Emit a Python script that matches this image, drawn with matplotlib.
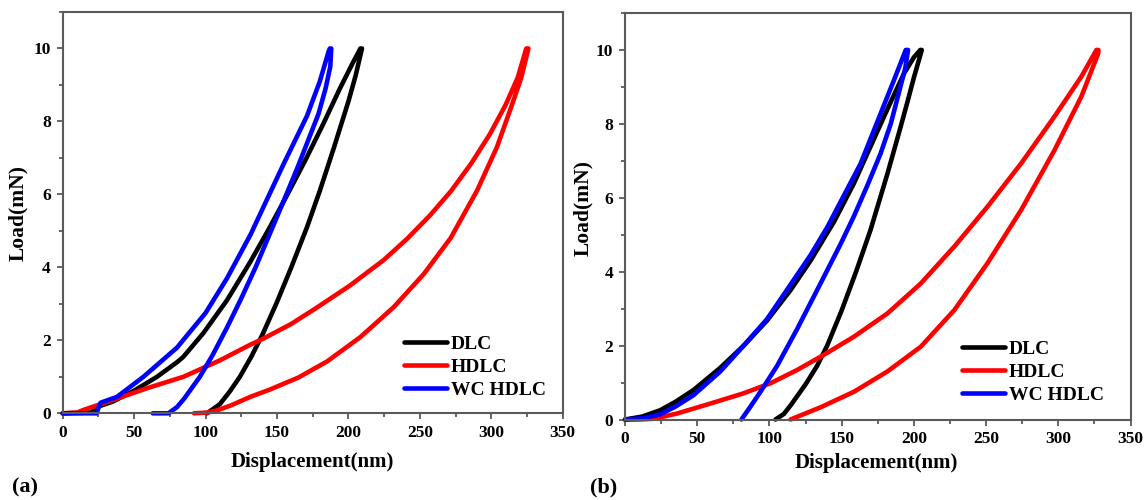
import matplotlib
matplotlib.use("Agg")
import matplotlib.pyplot as plt
from matplotlib.ticker import MultipleLocator

# ---------------- data ----------------
labels = ["DLC", "HDLC", "WC HDLC"]
colors = ["#000000", "#ff0000", "#0000ff"]

# Panel (a): loading branch then unloading branch (displacement nm, load mN)
a_dlc_load_x = [0, 20, 26, 35, 50, 66, 80, 84.5, 98.5, 115, 131.3, 145, 158, 170, 182, 194, 203, 208.4]
a_dlc_load_y = [0, 0.02, 0.2, 0.32, 0.62, 1.0, 1.4, 1.55, 2.2, 3.1, 4.15, 5.1, 6.05, 6.95, 7.9, 8.9, 9.6, 10]
a_dlc_unl_x = [209.5, 205, 200, 190, 180, 171, 160, 150, 140, 132, 124, 117, 110, 101]
a_dlc_unl_y = [10, 9.25, 8.55, 7.3, 6.1, 5.1, 4.0, 3.05, 2.17, 1.55, 1.0, 0.6, 0.25, 0]

a_hdlc_load_x = [0, 10, 14.4, 37.8, 60, 84.5, 110, 131.3, 140.6, 160, 178, 201, 224.7, 241, 257, 272, 286, 299, 310, 318.5, 324.5]
a_hdlc_load_y = [0, 0.02, 0.09, 0.4, 0.7, 1.0, 1.45, 1.88, 2.05, 2.45, 2.9, 3.5, 4.2, 4.78, 5.42, 6.1, 6.85, 7.65, 8.45, 9.2, 10]
a_hdlc_unl_x = [326, 321, 314, 304, 290, 271.5, 252.8, 231.7, 208.4, 185, 165, 145, 131.3, 118, 108, 101, 92]
a_hdlc_unl_y = [10, 9.2, 8.4, 7.3, 6.1, 4.8, 3.82, 2.91, 2.09, 1.42, 0.98, 0.65, 0.45, 0.22, 0.08, 0.02, 0]

a_wc_load_x = [0, 23.8, 25, 26.5, 38, 56.5, 80, 100, 115, 131.5, 154.6, 171, 180, 186, 187]
a_wc_load_y = [0, 0, 0.15, 0.29, 0.45, 1.0, 1.8, 2.75, 3.7, 4.9, 6.83, 8.15, 9.1, 9.9, 10]
a_wc_unl_x = [188, 187.3, 184, 179, 172, 164, 155, 145.3, 135, 125, 115, 105, 96, 85, 80, 74, 63]
a_wc_unl_y = [10, 9.5, 8.9, 8.2, 7.5, 6.7, 5.85, 4.95, 4.0, 3.15, 2.35, 1.6, 1.0, 0.4, 0.17, 0, 0]

# Panel (b)
b_dlc_load_x = [0, 12, 24.3, 35, 47.5, 66, 82.2, 98.4, 114.6, 128.5, 144.7, 158.5, 181.7, 193, 200, 204.5]
b_dlc_load_y = [0, 0.08, 0.25, 0.48, 0.8, 1.4, 2.0, 2.68, 3.5, 4.3, 5.35, 6.39, 8.4, 9.35, 9.8, 10]
b_dlc_unl_x = [205.5, 200, 195.6, 190, 181.7, 170, 160, 150, 140, 133, 125, 115, 110, 104.2]
b_dlc_unl_y = [10, 9.25, 8.6, 7.8, 6.65, 5.13, 4.0, 2.95, 2.0, 1.45, 0.95, 0.4, 0.15, 0]

b_hdlc_load_x = [0, 10, 19.7, 35.9, 59, 82.2, 100.7, 119.2, 137.7, 158.5, 181.7, 204.8, 228, 251, 274.3, 297.4, 316, 326.4]
b_hdlc_load_y = [0, 0, 0.02, 0.16, 0.43, 0.71, 0.98, 1.34, 1.75, 2.24, 2.87, 3.68, 4.68, 5.76, 6.93, 8.2, 9.28, 10]
b_hdlc_unl_x = [327.8, 327.6, 316, 297.4, 274.3, 251, 228, 204.8, 181.7, 158.5, 135.4, 128.5, 114.6]
b_hdlc_unl_y = [10, 9.9, 8.74, 7.29, 5.67, 4.23, 2.96, 1.97, 1.3, 0.75, 0.33, 0.22, 0]

b_wc_load_x = [0, 12, 24.3, 35, 47.5, 66, 82.2, 98.4, 114.6, 128.5, 140, 163.2, 186.3, 194.4]
b_wc_load_y = [0, 0.03, 0.14, 0.35, 0.66, 1.3, 2.0, 2.72, 3.65, 4.45, 5.2, 6.93, 9.19, 10]
b_wc_unl_x = [196, 194, 190, 184, 177, 168, 158.5, 149.3, 133, 119.2, 105.3, 93.8, 86, 80.6]
b_wc_unl_y = [10, 9.5, 8.9, 8.0, 7.2, 6.35, 5.5, 4.75, 3.5, 2.45, 1.45, 0.75, 0.3, 0]

x_ticks = [0, 50, 100, 150, 200, 250, 300, 350]
y_ticks = [0, 2, 4, 6, 8, 10]

# ---------------- styling ----------------
plt.rcParams['font.family'] = ['Liberation Serif', 'DejaVu Serif']
spine_col = "#5a5a5a"
LW = 3.3
W, H = 1145, 500

fig = plt.figure(figsize=(W / 100, H / 100), dpi=100)
ax_a = fig.add_axes([62.7 / W, 1 - 413.3 / H, 500 / W, 401.3 / H])
ax_b = fig.add_axes([625 / W, 1 - 419.5 / H, 505.5 / W, 406.5 / H])

panels = [
    (ax_a, [(a_dlc_load_x, a_dlc_load_y, a_dlc_unl_x, a_dlc_unl_y),
            (a_hdlc_load_x, a_hdlc_load_y, a_hdlc_unl_x, a_hdlc_unl_y),
            (a_wc_load_x, a_wc_load_y, a_wc_unl_x, a_wc_unl_y)],
     (0.683, 0.115), (0.5, -0.096), (-0.069, 0.499)),
    (ax_b, [(b_dlc_load_x, b_dlc_load_y, b_dlc_unl_x, b_dlc_unl_y),
            (b_hdlc_load_x, b_hdlc_load_y, b_hdlc_unl_x, b_hdlc_unl_y),
            (b_wc_load_x, b_wc_load_y, b_wc_unl_x, b_wc_unl_y)],
     (0.667, 0.117), (0.497, -0.082), (-0.063, 0.52)),
]

for ax, series, legpos, xlab_pos, ylab_pos in panels:
    for (lx, ly, ux, uy), lab, col in zip(series, labels, colors):
        ax.plot(list(lx) + list(ux), list(ly) + list(uy), color=col, lw=LW,
                solid_capstyle='round', solid_joinstyle='round', label=lab, clip_on=False)
    ax.set_xticks(x_ticks)
    ax.set_yticks(y_ticks)
    ax.set_xlim(0, 350)
    ax.set_ylim(0, 11)
    ax.xaxis.set_minor_locator(MultipleLocator(25))
    ax.yaxis.set_minor_locator(MultipleLocator(1))
    ax.tick_params(which='both', direction='out', top=False, right=False,
                   color=spine_col, width=1.3)
    ax.tick_params(which='major', length=4.5, labelsize=12.5, pad=4)
    ax.tick_params(which='minor', length=3)
    for lbl in ax.get_xticklabels() + ax.get_yticklabels():
        lbl.set_fontweight('bold')
    for s in ax.spines.values():
        s.set_color(spine_col)
        s.set_linewidth(1.5)
    ax.set_xlabel("Displacement(nm)", fontsize=15, fontweight='bold')
    ax.set_ylabel("Load(mN)", fontsize=15.5, fontweight='bold')
    ax.xaxis.set_label_coords(*xlab_pos)
    ax.yaxis.set_label_coords(*ylab_pos)
    ax.legend(loc='center left', bbox_to_anchor=legpos, frameon=False,
              prop={'size': 14, 'weight': 'bold'}, handlelength=2.2, handletextpad=0.2,
              labelspacing=0.27, borderpad=0, borderaxespad=0)

fig.text(25 / W, 1 - 487 / H, "(a)", fontsize=16, fontweight='bold', ha='center', va='center')
fig.text(604 / W, 1 - 487 / H, "(b)", fontsize=16, fontweight='bold', ha='center', va='center')

fig.savefig("out.png", dpi=100)
